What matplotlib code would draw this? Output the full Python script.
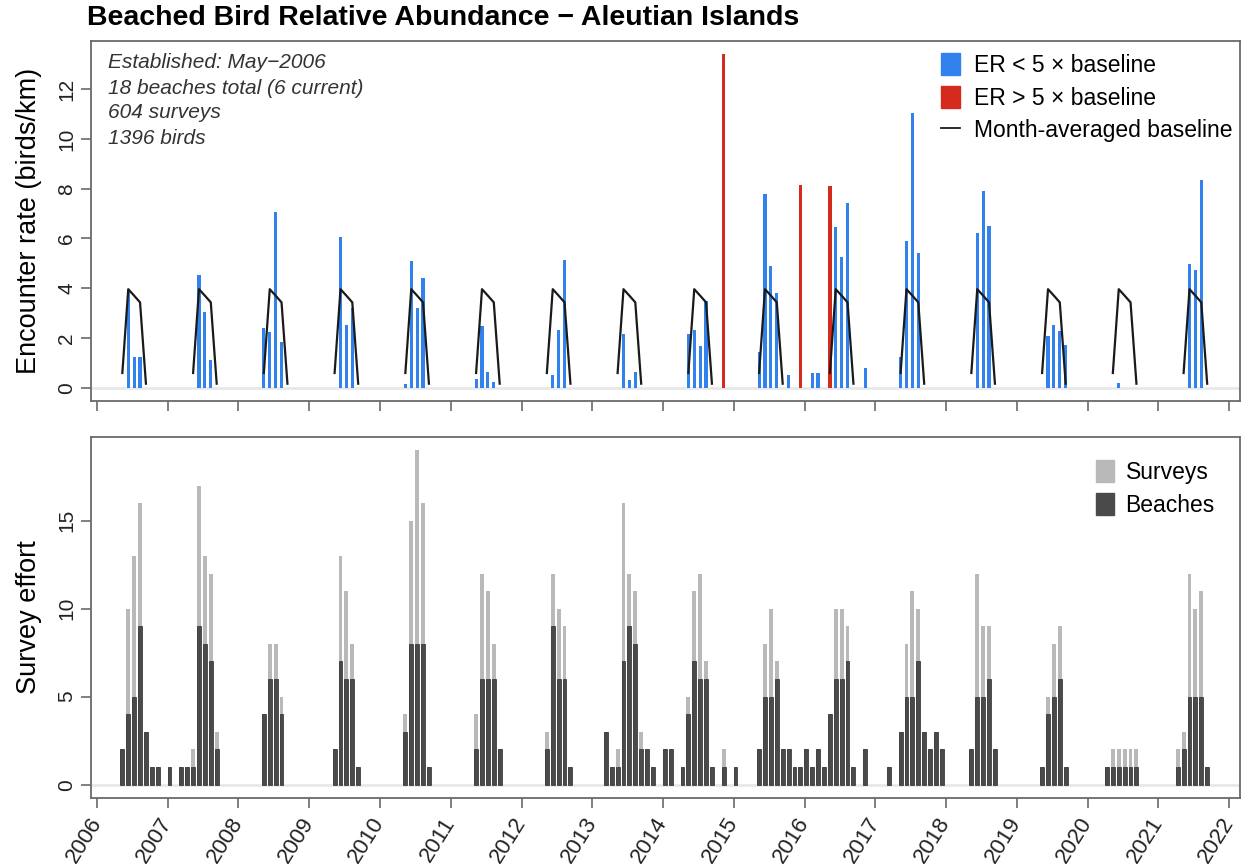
import numpy as np
import matplotlib
matplotlib.use("Agg")
from matplotlib import pyplot as plt
from matplotlib.patches import Patch
from matplotlib.lines import Line2D

plt.rcParams['font.family'] = ['Liberation Sans', 'DejaVu Sans']

# ---- survey effort (month, surveys, beaches) ----
effort_months = ["2006-05", "2006-06", "2006-07", "2006-08", "2006-09", "2006-10", "2006-11",
                 "2007-01", "2007-03", "2007-04", "2007-05", "2007-06", "2007-07", "2007-08", "2007-09",
                 "2008-05", "2008-06", "2008-07", "2008-08",
                 "2009-05", "2009-06", "2009-07", "2009-08", "2009-09",
                 "2010-05", "2010-06", "2010-07", "2010-08", "2010-09",
                 "2011-05", "2011-06", "2011-07", "2011-08", "2011-09",
                 "2012-05", "2012-06", "2012-07", "2012-08", "2012-09",
                 "2013-03", "2013-04", "2013-05", "2013-06", "2013-07", "2013-08", "2013-09", "2013-10", "2013-11",
                 "2014-01", "2014-02", "2014-04", "2014-05", "2014-06", "2014-07", "2014-08", "2014-09", "2014-11",
                 "2015-01", "2015-05", "2015-06", "2015-07", "2015-08", "2015-09", "2015-10", "2015-11", "2015-12",
                 "2016-01", "2016-02", "2016-03", "2016-04", "2016-05", "2016-06", "2016-07", "2016-08", "2016-09", "2016-11",
                 "2017-03", "2017-05", "2017-06", "2017-07", "2017-08", "2017-09", "2017-10", "2017-11", "2017-12",
                 "2018-05", "2018-06", "2018-07", "2018-08", "2018-09",
                 "2019-05", "2019-06", "2019-07", "2019-08", "2019-09",
                 "2020-04", "2020-05", "2020-06", "2020-07", "2020-08", "2020-09",
                 "2021-04", "2021-05", "2021-06", "2021-07", "2021-08", "2021-09"]
surveys = [2, 10, 13, 16, 3, 1, 1,
           1, 1, 1, 2, 17, 13, 12, 3,
           4, 8, 8, 5,
           2, 13, 11, 8, 1,
           4, 15, 19, 16, 1,
           4, 12, 11, 8, 2,
           3, 12, 10, 9, 1,
           3, 1, 2, 16, 12, 11, 3, 2, 1,
           2, 2, 1, 5, 11, 12, 7, 1, 2,
           1, 2, 8, 10, 7, 2, 2, 1, 1,
           2, 1, 2, 1, 4, 10, 10, 9, 1, 2,
           1, 3, 8, 11, 10, 3, 2, 3, 2,
           2, 12, 9, 9, 2,
           1, 5, 8, 9, 1,
           1, 2, 2, 2, 2, 2,
           2, 3, 12, 10, 11, 1]
beaches = [2, 4, 5, 9, 3, 1, 1,
           1, 1, 1, 1, 9, 8, 7, 2,
           4, 6, 6, 4,
           2, 7, 6, 6, 1,
           3, 8, 8, 8, 1,
           2, 6, 6, 6, 2,
           2, 9, 6, 6, 1,
           3, 1, 1, 7, 9, 8, 2, 2, 1,
           2, 2, 1, 4, 7, 6, 6, 1, 1,
           1, 2, 5, 5, 6, 2, 2, 1, 1,
           2, 1, 2, 1, 4, 6, 6, 7, 1, 2,
           1, 3, 5, 5, 7, 3, 2, 3, 2,
           2, 5, 5, 6, 2,
           1, 4, 5, 6, 1,
           1, 1, 1, 1, 1, 1,
           1, 2, 5, 5, 5, 1]

# ---- encounter rate (birds/km) ----
er_months = ["2006-06", "2006-07", "2006-08",
             "2007-06", "2007-07", "2007-08",
             "2008-05", "2008-06", "2008-07", "2008-08",
             "2009-06", "2009-07", "2009-08",
             "2010-05", "2010-06", "2010-07", "2010-08",
             "2011-05", "2011-06", "2011-07", "2011-08",
             "2012-06", "2012-07", "2012-08",
             "2013-06", "2013-07", "2013-08",
             "2014-05", "2014-06", "2014-07", "2014-08", "2014-11",
             "2015-05", "2015-06", "2015-07", "2015-08", "2015-10", "2015-12",
             "2016-02", "2016-03", "2016-05", "2016-06", "2016-07", "2016-08", "2016-11",
             "2017-05", "2017-06", "2017-07", "2017-08",
             "2018-06", "2018-07", "2018-08",
             "2019-06", "2019-07", "2019-08", "2019-09",
             "2020-06",
             "2021-06", "2021-07", "2021-08"]
er_values = [3.85, 1.23, 1.23,
             4.53, 3.05, 1.1,
             2.39, 2.23, 7.05, 1.83,
             6.07, 2.5, 3.19,
             0.16, 5.09, 3.19, 4.39,
             0.36, 2.47, 0.63, 0.23,
             0.49, 2.33, 5.12,
             2.16, 0.29, 0.65,
             2.16, 2.32, 1.67, 3.49, 13.4,
             1.43, 7.8, 4.89, 3.79, 0.52, 8.13,
             0.59, 0.59, 8.09, 6.45, 5.27, 7.43, 0.79,
             1.23, 5.89, 11.05, 5.43,
             6.23, 7.89, 6.52,
             2.07, 2.52, 2.29, 1.73,
             0.19,
             4.96, 4.73, 8.36]
er_high = ["2014-11", "2015-12", "2016-05"]   # months with ER > 5 x baseline

# month-averaged baseline, May..Sep, repeated every year
base_months = [5, 6, 7, 8, 9]
base_values = [0.59, 3.96, 3.70, 3.43, 0.16]
base_years = list(range(2006, 2022))

year_ticks = list(range(2006, 2023))


def dec(s):
    y, m = s.split("-")
    return int(y) + (int(m) - 0.7) / 12.0


W, H = 1243, 867
fig = plt.figure(figsize=(W / 100, H / 100), dpi=100)
ax1 = fig.add_axes([91 / W, 1 - 401 / H, 1149 / W, 360 / H])
ax2 = fig.add_axes([91 / W, 1 - 798 / H, 1149 / W, 361 / H])

blue = '#3282ee'
red = '#d52a1e'
xlim = (2006 + (91 - 97) / 70.75, 2006 + (1240 - 97) / 70.75)

# --- top: encounter rate ---
ax1.axhline(0, color='#e8e8e8', lw=2, zorder=0)
xe = np.array([dec(s) for s in er_months])
ve = np.array(er_values)
hi = np.array([s in er_high for s in er_months])
ax1.bar(xe[~hi], ve[~hi], width=0.045, color=blue, zorder=2)
ax1.bar(xe[hi], ve[hi], width=0.05, color=red, zorder=2)
for yr in base_years:
    bx = [yr + (m - 0.7) / 12.0 for m in base_months]
    ax1.plot(bx, base_values, color='#1a1a1a', lw=1.6, zorder=3)

ax1.set_xlim(xlim)
ax1.set_ylim(-0.536, 13.94)
ax1.set_yticks([0, 2, 4, 6, 8, 10, 12])
ax1.set_xticks(year_ticks)
ax1.set_xticklabels([])
ax1.set_ylabel("Encounter rate (birds/km)", fontsize=19.5, labelpad=11)

notes = ["Established: May\u22122006", "18 beaches total (6 current)", "604 surveys", "1396 birds"]
for i, t in enumerate(notes):
    fig.text(108 / W, 1 - (63 + 25 * i) / H, t, fontsize=15, style='italic',
             color='#333333', va='center', ha='left')

h1 = [Patch(color=blue), Patch(color=red), Line2D([0], [0], color='#1a1a1a', lw=1.3)]
ax1.legend(h1, ["ER < 5 \u00d7 baseline", "ER > 5 \u00d7 baseline", "Month-averaged baseline"],
           loc='upper right', bbox_to_anchor=(1.007, 1.01), frameon=False, fontsize=16.5,
           handlelength=0.8, handleheight=1.1, handletextpad=0.6, labelspacing=0.38,
           borderaxespad=0.3)

# --- bottom: survey effort ---
ax2.axhline(0, color='#e8e8e8', lw=2, zorder=0)
xs = np.array([dec(s) for s in effort_months])
ax2.bar(xs, surveys, width=0.055, color='#b9b9b9', zorder=2)
ax2.bar(xs, beaches, width=0.055, color='#4a4a4a', edgecolor='#2a2a2a', lw=0.5, zorder=3)
ax2.set_xlim(xlim)
ax2.set_ylim(-0.76, 19.76)
ax2.set_yticks([0, 5, 10, 15])
ax2.set_xticks(year_ticks)
ax2.set_xticklabels([str(y) for y in year_ticks], rotation=58, ha='right', va='center',
                    rotation_mode='anchor', fontsize=16)
ax2.set_ylabel("Survey effort", fontsize=19.5, labelpad=11)
ax2.legend([Patch(color='#b9b9b9'), Patch(color='#4a4a4a')], ["Surveys", "Beaches"],
           loc='upper right', bbox_to_anchor=(0.998, 1.0), frameon=False, fontsize=16.5,
           handlelength=0.8, handleheight=1.1, handletextpad=0.5, labelspacing=0.4,
           borderaxespad=0.6)

for ax in (ax1, ax2):
    for sp in ax.spines.values():
        sp.set_color('#6a6a6a')
        sp.set_linewidth(1.3)
    ax.tick_params(axis='both', direction='out', length=7, width=1.2, color='#6a6a6a',
                   labelsize=15, labelcolor='#222222')
    for lab in ax.get_yticklabels():
        lab.set_rotation(90)
        lab.set_va('center')
ax2.tick_params(axis='x', labelsize=16, pad=8)

fig.text(87 / W, 1 - 18 / H, "Beached Bird Relative Abundance \u2212 Aleutian Islands",
         fontsize=20.5, fontweight='bold', va='center', ha='left')

fig.savefig("out.png", dpi=100)
